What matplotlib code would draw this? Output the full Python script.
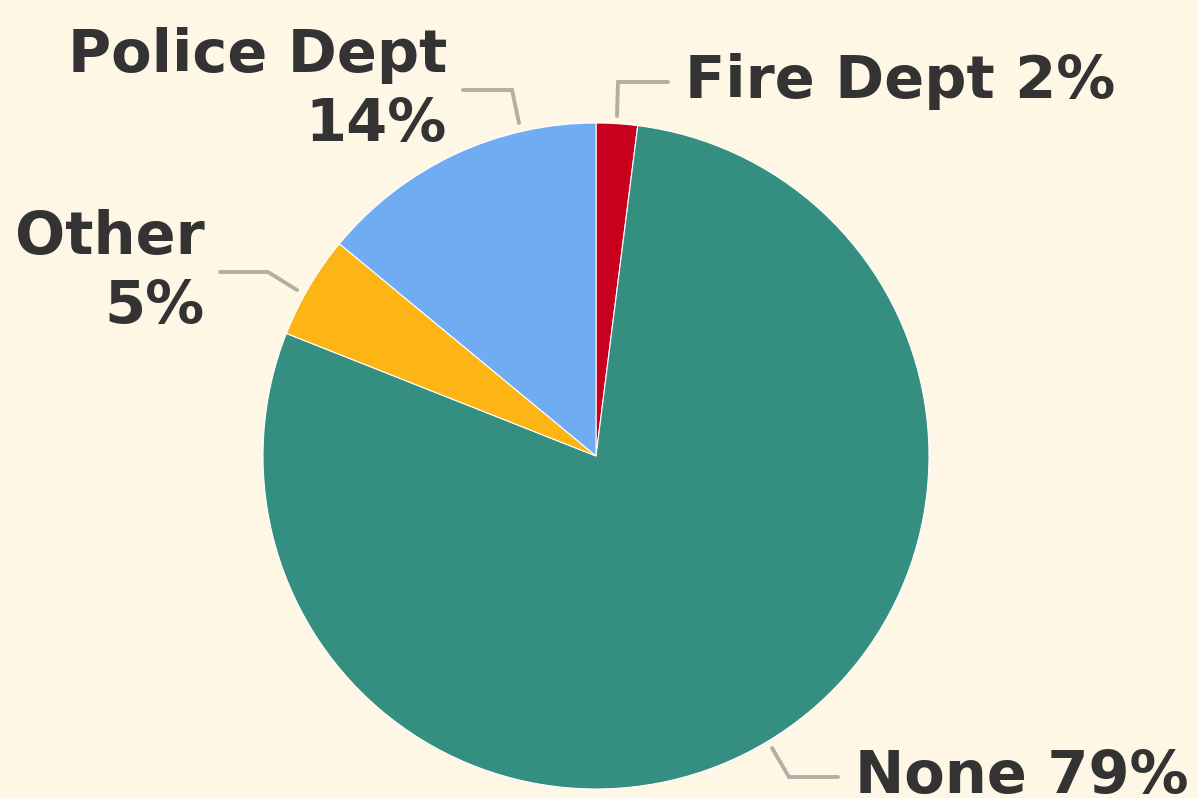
import matplotlib
matplotlib.use("Agg")
import matplotlib.pyplot as plt
import numpy as np

categories = ["Fire Dept", "None", "Other", "Police Dept"]
values = [2, 79, 5, 14]
colors = ["#C8001E", "#358F80", "#FDB515", "#6FACF2"]
label_texts = ["Fire Dept 2%", "None 79%", "Other\n5%", "Police Dept\n14%"]

BG = "#FFF7E6"
W, H = 1198, 798
fig = plt.figure(figsize=(W / 100, H / 100), dpi=100, facecolor=BG)
ax = fig.add_axes([0, 0, 1, 1])
ax.set_facecolor(BG)

cx, cy, r = 596, 456, 333
# y axis is inverted (pixel-like coords): startangle -90 = top, counterclock in data = clockwise on screen
wedges, _ = ax.pie(values, colors=colors, startangle=-90, counterclock=True,
                   center=(cx, cy), radius=r, frame=True,
                   wedgeprops=dict(edgecolor="#FFFFFF", linewidth=0.8))
ax.set_xlim(0, W)
ax.set_ylim(H, 0)
ax.set_aspect("equal")
ax.axis("off")

# leader lines (start, elbow, end) and label anchor, layout only
layout = [
    dict(pts=[(617, 116), (618, 82), (668, 82)], xy=(685, 82), ha="left"),
    dict(pts=[(772, 748), (789, 777), (838, 777)], xy=(855, 777), ha="left"),
    dict(pts=[(297, 290), (268, 272), (220, 272)], xy=(205, 272), ha="right"),
    dict(pts=[(519, 123), (512, 90), (463, 90)], xy=(447, 90), ha="right"),
]
for txt, lay in zip(label_texts, layout):
    xs, ys = zip(*lay["pts"])
    ax.plot(xs, ys, color="#B3AFA5", lw=2.8, solid_capstyle="round",
            solid_joinstyle="miter")
    ax.text(lay["xy"][0], lay["xy"][1], txt, ha=lay["ha"], va="center",
            multialignment="right" if lay["ha"] == "right" else "left",
            fontsize=42.5, fontweight="bold", color="#333333",
            family="DejaVu Sans", linespacing=1.28)

fig.savefig("out.png", dpi=100, facecolor=BG)
